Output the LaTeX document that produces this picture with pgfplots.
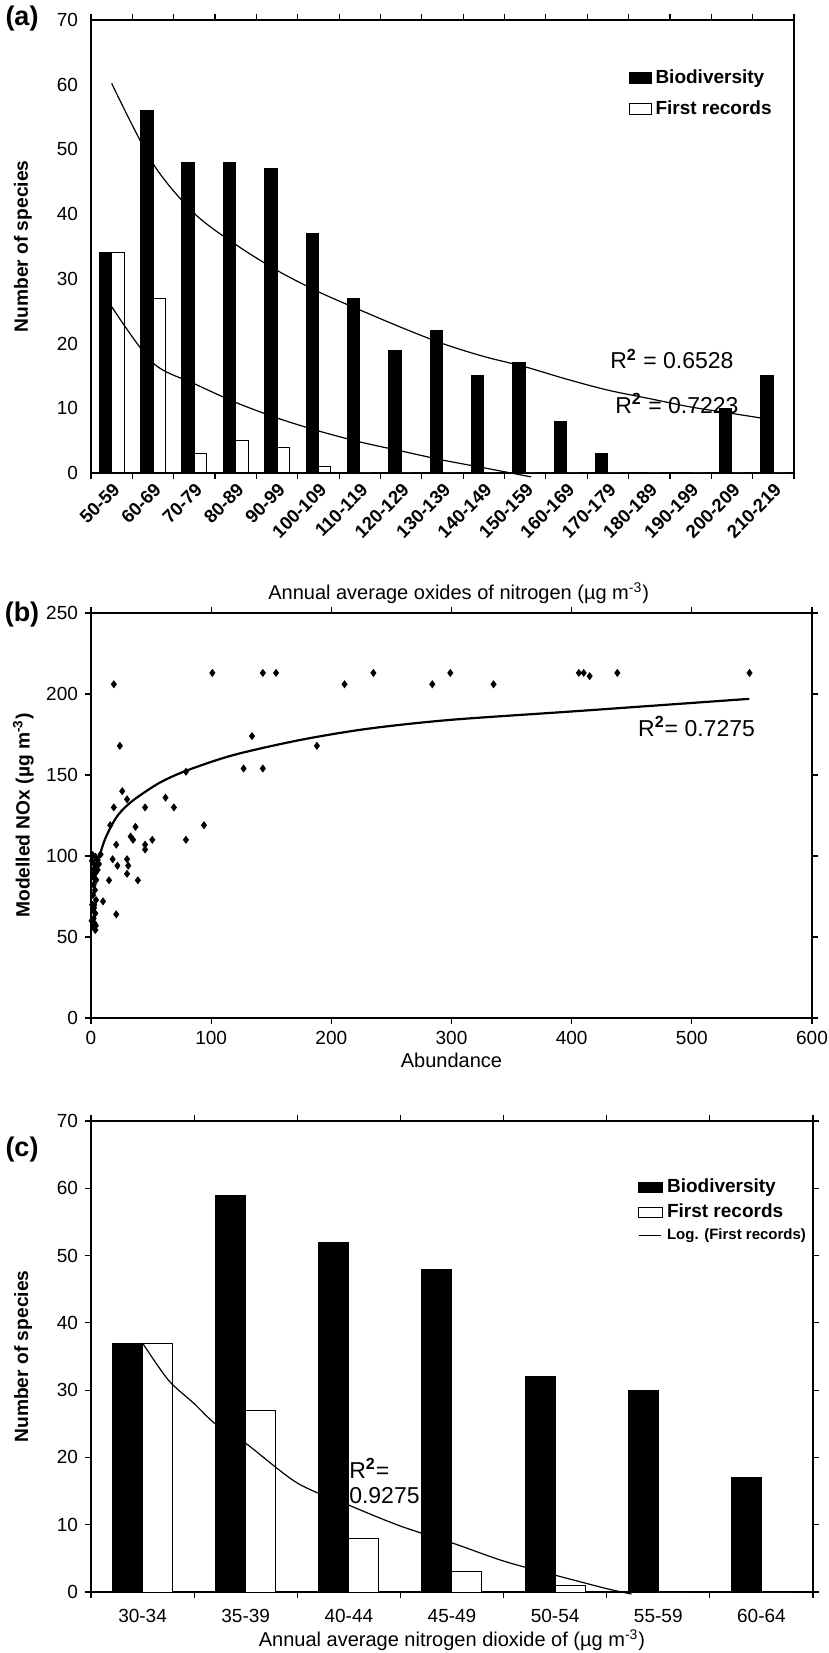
\documentclass[border=0pt]{standalone}
\usepackage{pgfplots}
\pgfplotsset{compat=1.18}
\usepackage{fontspec}
\setmainfont{Liberation Sans}
\begin{document}
\begin{tikzpicture}
\useasboundingbox (0pt,0pt) rectangle (414.5pt,826.5pt);
\pgfplotsset{
  every axis/.append style={
    scale only axis,
    /pgf/number format/assume math mode=true,
    tick label style={font=\fontsize{9.5}{11}\selectfont},
    label style={font=\fontsize{10}{12}\selectfont},
    axis line style={line width=0.7pt},
    every tick/.style={line width=0.6pt, black},
    tick align=outside,
    major tick length=3pt,
    minor tick length=3pt,
    clip=false,
    legend cell align=left,
  },
}
% ---------------- panel (a)
\begin{axis}[
  at={(45.5pt,590pt)}, anchor=south west,
  width=351.5pt, height=226.5pt,
  xmin=-0.5, xmax=16.5, ymin=0, ymax=70,
  ytick={0,10,...,70},
  xtick={0,...,16},
  xticklabels={50-59,60-69,70-79,80-89,90-99,100-109,110-119,120-129,130-139,140-149,150-159,160-169,170-179,180-189,190-199,200-209,210-219},
  minor xtick={-0.5,0.5,...,16.5},
  major x tick style={draw=none},
  major y tick style={draw=none},
  xticklabel style={rotate=45, anchor=north east, font=\bfseries\fontsize{9.2}{10}\selectfont, inner sep=1pt, xshift=0pt},
  xlabel={Annual average oxides of nitrogen (µg m\textsuperscript{-3})},
  xlabel style={at={(axis description cs:0.523,-0.265)}, anchor=center},
  ylabel={\bfseries\fontsize{9.6}{11}\selectfont Number of species},
  ylabel style={at={(axis description cs:-0.097,0.5)}, anchor=center},
  legend style={at={(axis description cs:0.764,0.9)}, anchor=north west, draw=none, fill=none, font=\bfseries\fontsize{9.5}{11}\selectfont, row sep=3pt, inner sep=0pt},
]
\addplot[ybar, bar width=6.2pt, bar shift=-3.1pt, fill=black, draw=black, line width=0.5pt, legend image code/.code={\draw[fill=black,draw=black,line width=0.5pt] (0pt,-2.6pt) rectangle (11pt,2.6pt);}] coordinates {
(0,34) (1,56) (2,48) (3,48) (4,47) (5,37) (6,27) (7,19) (8,22) (9,15) (10,17) (11,8) (12,3) (13,0) (14,0) (15,10) (16,15)};
\addlegendentry{Biodiversity}
\addplot[ybar, bar width=6.2pt, bar shift=3.1pt, fill=white, draw=black, line width=0.5pt, legend image code/.code={\draw[fill=white,draw=black,line width=0.5pt] (0pt,-2.6pt) rectangle (11pt,2.6pt);}] coordinates {
(0,34) (1,27) (2,3) (3,5) (4,4) (5,1) (6,0) (7,0) (8,0) (9,0) (10,0) (11,0) (12,0) (13,0) (14,0) (15,0) (16,0)};
\addlegendentry{First records}
\addplot[smooth, black, line width=0.6pt, forget plot] coordinates {
(0,60.2) (1,47.8) (2,40.1) (3,35.3) (4,31.3) (5,28.0) (6,25.2) (7,22.5) (8,20.0) (9,18.0) (10,16.4) (11,14.5) (12,12.8) (13,11.5) (14,10.2) (15,9.2) (16,8.2)};
\addplot[smooth, black, line width=0.6pt, forget plot] coordinates {
(0,25.7) (1,17.0) (2,13.8) (3,10.9) (4,8.5) (5,6.5) (6,4.8) (7,3.4) (8,2.0) (9,0.8) (10.14,-0.6)};
\node[anchor=west, font=\fontsize{11.5}{13}\selectfont, inner sep=0pt] at (axis cs:12.05,17.6) {R\textsuperscript{\bfseries 2} = 0.6528};
\node[anchor=west, font=\fontsize{11.5}{13}\selectfont, inner sep=0pt] at (axis cs:12.17,10.7) {R\textsuperscript{\bfseries 2} = 0.7223};
\end{axis}
\node[font=\bfseries\fontsize{13.5}{15}\selectfont] at (11pt,817pt) {(a)};
% ---------------- panel (b)
\begin{axis}[
  at={(45.5pt,317.5pt)}, anchor=south west,
  width=360.5pt, height=202.5pt,
  xmin=0, xmax=600, ymin=0, ymax=250,
  xtick={0,100,...,600}, ytick={0,50,...,250},
  xlabel={Abundance},
  xlabel style={at={(axis description cs:0.5,-0.104)}, anchor=center},
  ylabel={\bfseries\fontsize{9.6}{11}\selectfont Modelled NOx (µg m\textsuperscript{-3})},
  ylabel style={at={(axis description cs:-0.094,0.5)}, anchor=center},
]
\addplot[only marks, mark=diamond*, mark size=1.7pt, black] coordinates {
(101,213) (143,213) (154,213) (235,213) (299,213) (406,213) (410,213) (415,211) (438,213) (548,213)
(19,206) (211,206) (284,206) (335,206)
(134,174) (188,168) (127,154) (143,154) (79,152) (24,168)
(62,136) (69,130) (94,119) (79,110)
(26,140) (30,135) (19,130) (45,130) (16,119) (37,118) (33,112) (35,110) (51,110) (21,107) (45,107) (45,104)
(8,101) (18,98) (30,98) (22,94) (31,94) (30,89) (15,85) (39,85) (10,72) (21,64)
(1.4,100.6) (3.6,99.6) (5.5,97.5) (2.2,95.5) (5,94.4) (6.6,95) (3,92.4) (5.5,91.4) (3.6,89.3) (1.7,87.2)
(4.4,85.2) (2.2,82.1) (3.3,79) (1.7,75.9) (4.2,72.8) (2.7,69.8) (1.7,66.7) (3.6,64.6) (2.2,61.5) (3,58.4)
(1.7,56.4) (3.6,54.3) (0.5,60) (1,70) (2,90) (4,57) (0.8,97) (2.5,68)};
\addplot[smooth, black, line width=1.1pt] coordinates {
(1.9,81) (4,92) (7.3,100.6) (12,111) (18.9,121.2) (25,127.5) (35.5,134.6) (56.4,144.9) (78.8,152.5) (118.5,162.3) (174,171.6) (230,178.5) (298.8,184) (405.7,189.5) (547.8,197)};
\node[anchor=west, font=\fontsize{11.5}{13}\selectfont, inner sep=0pt] at (axis cs:455,180) {R\textsuperscript{\bfseries 2}= 0.7275};
\end{axis}
\node[font=\bfseries\fontsize{13.5}{15}\selectfont] at (11pt,519pt) {(b)};
% ---------------- panel (c)
\begin{axis}[
  at={(45.5pt,30.5pt)}, anchor=south west,
  width=361pt, height=235.5pt,
  xmin=-0.5, xmax=6.5, ymin=0, ymax=70,
  ytick={0,10,...,70},
  xtick={0,...,6},
  xticklabels={30-34,35-39,40-44,45-49,50-54,55-59,60-64},
  minor xtick={-0.5,0.5,...,6.5},
  major x tick style={draw=none},
  xticklabel style={yshift=-2pt},
  xlabel={Annual average nitrogen dioxide of (µg m\textsuperscript{-3})},
  xlabel style={at={(axis description cs:0.5,-0.102)}, anchor=center},
  ylabel={\bfseries\fontsize{9.6}{11}\selectfont Number of species},
  ylabel style={at={(axis description cs:-0.094,0.5)}, anchor=center},
  legend style={at={(axis description cs:0.757,0.886)}, anchor=north west, draw=none, fill=none, font=\bfseries\fontsize{9.5}{11}\selectfont, row sep=0pt, inner sep=0pt},
]
\addplot[ybar, bar width=15pt, bar shift=-7.5pt, fill=black, draw=black, line width=0.5pt, legend image code/.code={\draw[fill=black,draw=black,line width=0.5pt] (0pt,-2.6pt) rectangle (12pt,2.6pt);}] coordinates {
(0,37) (1,59) (2,52) (3,48) (4,32) (5,30) (6,17)};
\addlegendentry{Biodiversity}
\addplot[ybar, bar width=15pt, bar shift=7.5pt, fill=white, draw=black, line width=0.5pt, legend image code/.code={\draw[fill=white,draw=black,line width=0.5pt] (0pt,-2.6pt) rectangle (12pt,2.6pt);}] coordinates {
(0,37) (1,27) (2,8) (3,3) (4,1) (5,0) (6,0)};
\addlegendentry{First records}
\addplot[smooth, black, line width=0.6pt, legend image code/.code={\draw[black,line width=0.6pt] (0pt,0pt) -- (11pt,0pt);}] coordinates {
(0,37) (0.25,31.5) (0.5,28) (0.705,25) (1,22.1) (1.5,16.2) (2,12.9) (2.5,9.8) (3,7.3) (3.5,4.6) (4,2.5) (4.5,0.5) (4.74,-0.3)};
\addlegendentry{\fontsize{7.5}{9}\selectfont Log. (First records)}
\node[anchor=west, align=left, font=\fontsize{11.5}{12.5}\selectfont, inner sep=0pt] at (axis cs:2.0,16.5) {R\textsuperscript{\bfseries 2}=\\0.9275};
\end{axis}
\node[font=\bfseries\fontsize{13.5}{15}\selectfont] at (11pt,251.5pt) {(c)};
\end{tikzpicture}
\end{document}
